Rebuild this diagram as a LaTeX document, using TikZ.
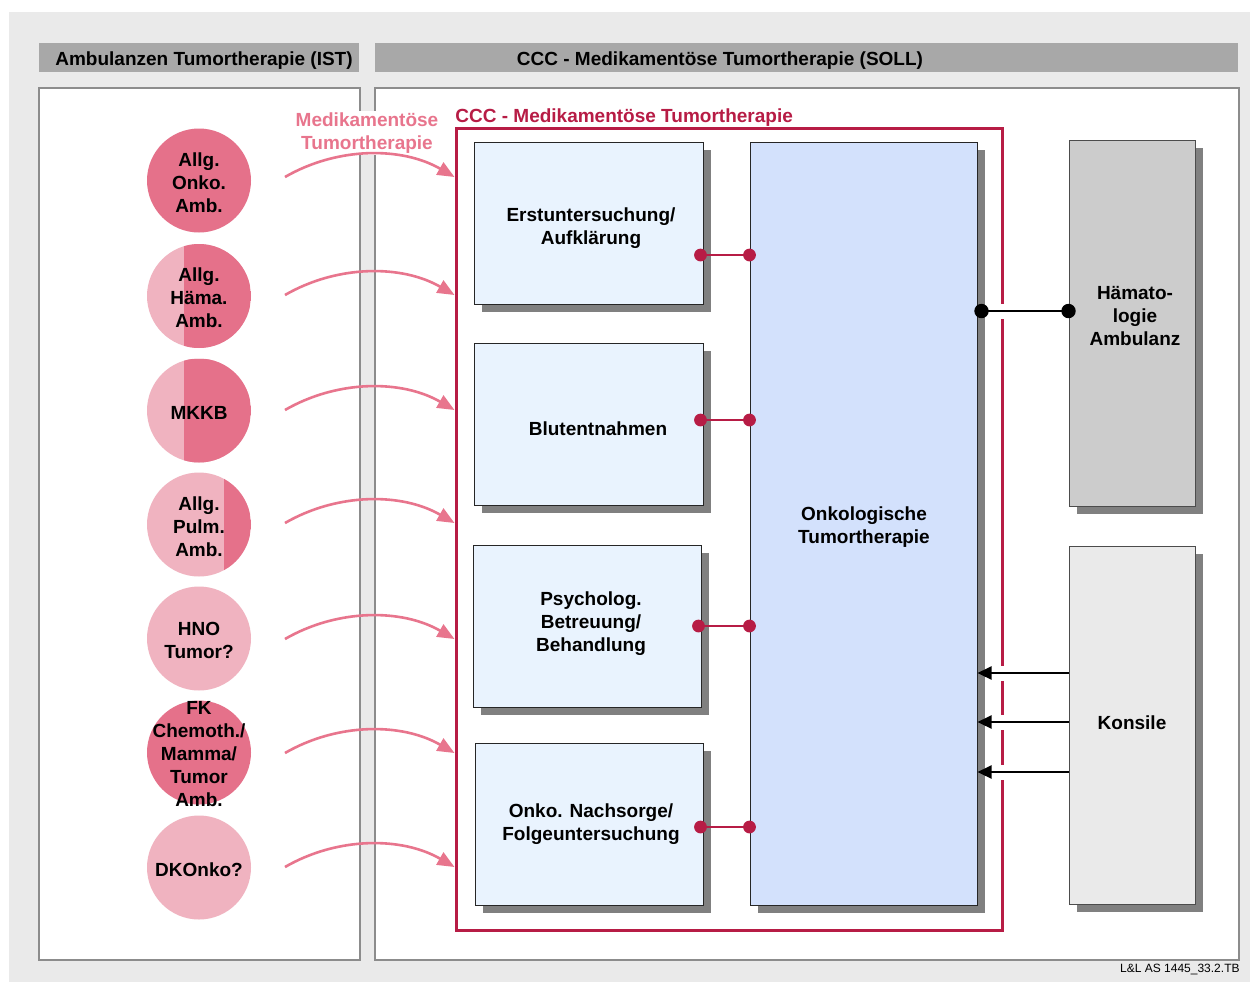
\documentclass[tikz,border=0pt]{standalone}
\usepackage{fontspec}
\setmainfont{Liberation Sans}
\usetikzlibrary{arrows.meta,fit,shadows}

\definecolor{bggray}{HTML}{EAEAEA}
\definecolor{headgray}{HTML}{A8A8A8}
\definecolor{framegray}{HTML}{8C8C8C}
\definecolor{shadowgray}{HTML}{808080}
\definecolor{cccred}{HTML}{B71C45}
\definecolor{arcpink}{HTML}{E8758D}
\definecolor{darkpink}{HTML}{E5718A}
\definecolor{lightpink}{HTML}{F0B3C0}
\definecolor{stepblue}{HTML}{E9F3FE}
\definecolor{coreblue}{HTML}{D3E1FC}
\definecolor{hemagray}{HTML}{CCCCCC}
\definecolor{konsgray}{HTML}{EAEAEA}

\tikzset{
  txt/.style={font=\fontsize{9.5}{11.5}\selectfont\bfseries, align=center},
  header/.style={fill=headgray, inner sep=0pt},
  panel/.style={draw=framegray, line width=1.1pt, fill=white, inner sep=0pt},
  cccframe/.style={draw=cccred, line width=1.5pt, inner sep=0pt},
  boxshadow/.style={drop shadow={shadow xshift=4pt, shadow yshift=-4pt, fill=shadowgray, opacity=1}},
  stepbox/.style={draw=black!85, line width=0.5pt, fill=stepblue, inner sep=0pt, boxshadow},
  corebox/.style={draw=black!85, line width=0.5pt, fill=coreblue, inner sep=0pt, boxshadow},
  sidebox/.style={draw=black!70, line width=0.5pt, fill=#1, inner sep=0pt, boxshadow},
  ambu/.style={circle, minimum size=52pt, inner sep=0pt, fill=#1},
  split/.style={path picture={\fill[darkpink] ([xshift=#1]path picture bounding box.north) rectangle (path picture bounding box.south east);}},
  flowarc/.style={draw=arcpink, line width=1.3pt, -{Triangle[length=8.5pt, width=7pt]}},
  redlink/.style={draw=cccred, line width=1pt},
  blacklink/.style={draw=black, line width=1pt},
  konsarrow/.style={draw=black, line width=1.1pt, -{Triangle[length=7pt, width=6.5pt]}},
}

\begin{document}
\begin{tikzpicture}[x=0.5pt, y=-0.5pt]
\useasboundingbox (0,0) rectangle (1255,982);
\fill[bggray] (9,12) rectangle (1250,982);

% column headers
\node[header, fit={(39,43) (359,72)}] (hist) {};
\node[header, fit={(375,43) (1238,72)}] (hsoll) {};
\node[txt, anchor=base] (histlbl) at (204,65) {Ambulanzen Tumortherapie (IST)};
\node[txt, anchor=base] (hsolllbl) at (720,65) {CCC - Medikamentöse Tumortherapie (SOLL)};

% panels
\node[panel, fit={(39,88) (360,960)}] (ist) {};
\node[panel, fit={(375,88) (1239,960)}] (soll) {};

% label over the gap between the panels
\node[txt, fill=white, text=arcpink, inner xsep=2pt, inner ysep=1pt] (medlbl) at (367,133) {Medikamentöse\\Tumortherapie};

% CCC frame
\node[cccframe, fit={(456,128) (1002,930)}] (ccc) {};
\node[txt, text=cccred, anchor=base west, inner sep=0pt] (ccclbl) at (455,122) {CCC - Medikamentöse Tumortherapie};

% process steps
\node[stepbox, fit={(474,142) (703,304)}] (b1) {};
\node[stepbox, fit={(474,343) (703,505)}] (b2) {};
\node[stepbox, fit={(473,545) (701,707)}] (b3) {};
\node[stepbox, fit={(475,743) (703,905)}] (b4) {};
\node[corebox, fit={(750,142) (977,905)}] (core) {};
\node[sidebox=hemagray, fit={(1069,140) (1195,506)}] (hema) {};
\node[sidebox=konsgray, fit={(1069,546) (1195,904)}] (kons) {};

\node[txt] (t1) at (591,228) {Erstuntersuchung/\\Aufklärung};
\node[txt] (t2) at (598,429) {Blutentnahmen};
\node[txt] (t3) at (591,623.5) {Psycholog.\\Betreuung/\\Behandlung};
\node[txt] (t4) at (591,824) {Onko. Nachsorge/\\Folgeuntersuchung};
\node[txt] (tcore) at (864,527) {Onkologische\\Tumortherapie};
\node[txt] (thema) at (1135,316) {Hämato-\\logie\\Ambulanz};
\node[txt] (tkons) at (1132,723) {Konsile};

% outpatient clinics
\node[ambu=darkpink, label={[txt, yshift=-1pt]center:Allg.\\Onko.\\Amb.}] (a1) at (199,180.5) {};
\node[ambu=lightpink, split=-7.5pt, label={[txt, yshift=-1pt]center:Allg.\\Häma.\\Amb.}] (a2) at (199,296) {};
\node[ambu=lightpink, split=-7.5pt, label={[txt, yshift=-1pt]center:MKKB}] (a3) at (199,410.5) {};
\node[ambu=lightpink, split=12.5pt, label={[txt, yshift=-1pt]center:Allg.\\Pulm.\\Amb.}] (a4) at (199,524.5) {};
\node[ambu=lightpink, label={[txt, yshift=-1pt]center:HNO\\Tumor?}] (a5) at (199,638.5) {};
\node[ambu=darkpink, label={[txt, yshift=-1pt]center:FK\\Chemoth./\\Mamma/\\Tumor\\Amb.}] (a6) at (199,752.5) {};
\node[ambu=lightpink, label={[txt, yshift=-1pt]center:DKOnko?}] (a7) at (199,867.5) {};

% transfer arcs into the CCC
\foreach \i/\y in {1/177,2/295,3/410,4/523,5/639,6/753,7/867}{
  \coordinate (s\i) at (285,\y);
  \draw[flowarc] (s\i) .. controls +(52.6,-30.4) and +(-52.6,-30.4) .. (ccc.west |- 0,\y);
}

% links between steps and the core
\foreach \b/\y in {b1/255,b2/420,b3/626,b4/827}{
  \draw[redlink] (\b.east |- 0,\y) -- (core.west |- 0,\y);
  \fill[cccred] (\b.east |- 0,\y) ++(-1.5pt,0) circle (3.2pt);
  \fill[cccred] (core.west |- 0,\y) circle (3.2pt);
}

% openings in the frame where links cross it
\foreach \y in {311,673,722,772}{
  \fill[white] (996,\y-7.5) rectangle (1008,\y+7.5);
}

% link to the haematology clinic
\draw[blacklink] ([xshift=2pt]core.east |- 0,311) -- (hema.west |- 0,311);
\fill ([xshift=2pt]core.east |- 0,311) circle (3.6pt);
\fill (hema.west |- 0,311) circle (3.6pt);

% consultations
\foreach \y in {673,722,772}{
  \draw[konsarrow] (kons.west |- 0,\y) -- (core.east |- 0,\y);
}

\node[anchor=base east, font=\fontsize{6}{7}\selectfont, inner sep=0pt] (ref) at (1240,972) {L\&L AS 1445\_33.2.TB};
\end{tikzpicture}
\end{document}
